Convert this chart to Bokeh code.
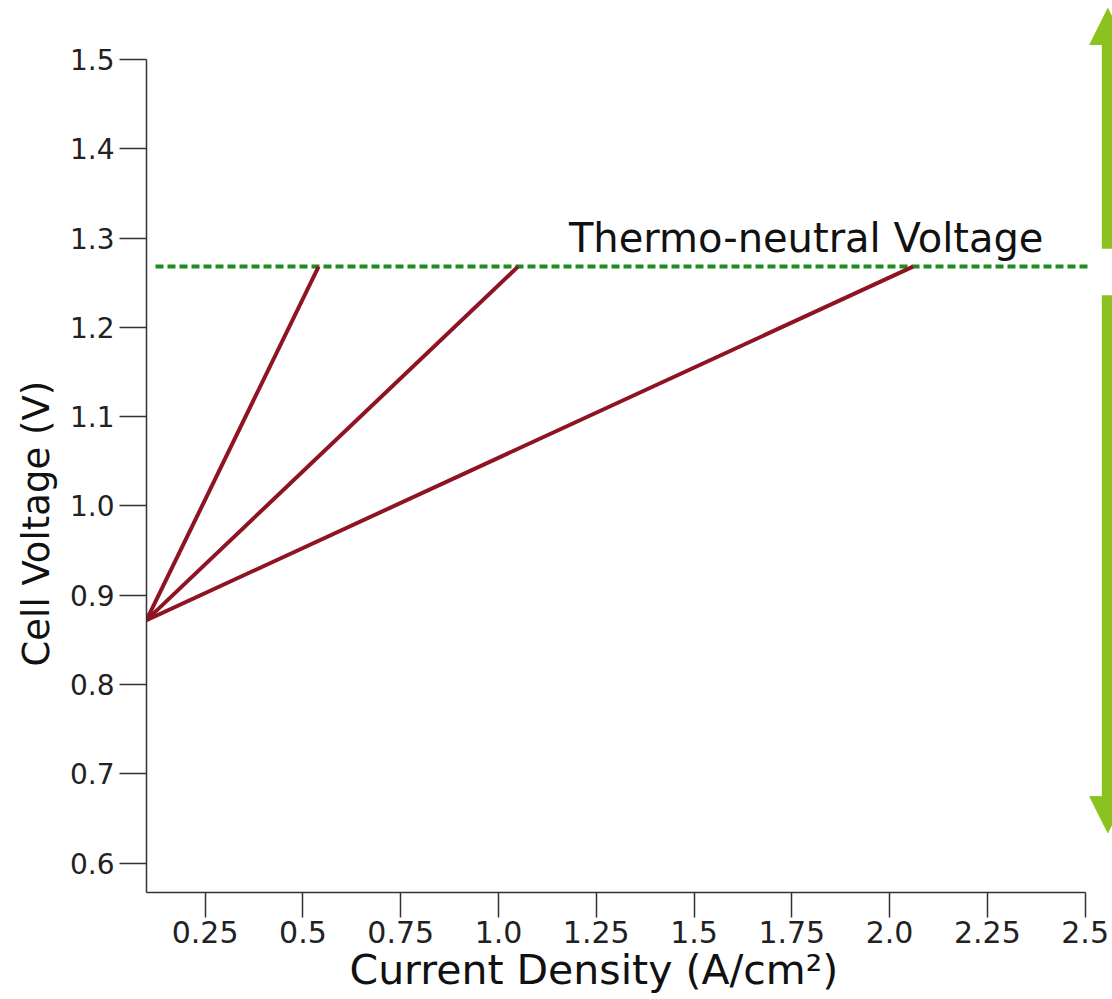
from bokeh.plotting import figure
from bokeh.models import Range1d, FixedTicker, Arrow, NormalHead, Label, Title
from bokeh.embed import file_html
from bokeh.resources import INLINE

# ---- data ----
origin_current = 0.1
origin_voltage = 0.872
end_currents = [0.54, 1.05, 2.06]
thermo_neutral_voltage = 1.268
thermo_label = "Thermo-neutral Voltage"
x_ticks = [0.25, 0.5, 0.75, 1.0, 1.25, 1.5, 1.75, 2.0, 2.25, 2.5]
x_tick_labels = ["0.25", "0.5", "0.75", "1.0", "1.25", "1.5", "1.75", "2.0", "2.25", "2.5"]
y_ticks = [0.6, 0.7, 0.8, 0.9, 1.0, 1.1, 1.2, 1.3, 1.4, 1.5]
y_tick_labels = ["0.6", "0.7", "0.8", "0.9", "1.0", "1.1", "1.2", "1.3", "1.4", "1.5"]
x_label = "Current Density (A/cm²)"
y_label = "Cell Voltage (V)"
arrow_x = 2.558
up_arrow = (1.288, 1.557)
down_arrow = (1.236, 0.634)

FONT = "DejaVu Sans"

p = figure(width=1112, height=999, output_backend="svg", toolbar_location=None,
           x_range=Range1d(0.1, 2.570), y_range=Range1d(0.567, 1.566),
           min_border_left=146, min_border_right=0, min_border_top=0, min_border_bottom=107)
p.grid.visible = False
p.outline_line_color = None
p.background_fill_color = "white"
p.border_fill_color = "white"

for ax in (p.xaxis[0], p.yaxis[0]):
    ax.axis_line_color = "#333333"
    ax.axis_line_width = 1.5
    ax.major_tick_line_color = "#333333"
    ax.major_tick_line_width = 1.5
    ax.major_tick_in = 0
    ax.minor_tick_line_color = None
    ax.major_label_text_font = FONT
    ax.major_label_text_color = "#222222"

p.xaxis[0].ticker = FixedTicker(ticks=x_ticks)
p.xaxis[0].major_label_overrides = dict(zip(x_ticks, x_tick_labels))
p.xaxis[0].major_label_text_font_size = "30px"
p.xaxis[0].major_tick_out = 25
p.xaxis[0].major_label_standoff = 3
p.xaxis[0].bounds = (0.1, 2.5)

p.yaxis[0].ticker = FixedTicker(ticks=y_ticks)
p.yaxis[0].major_label_overrides = dict(zip(y_ticks, y_tick_labels))
p.yaxis[0].major_label_text_font_size = "28px"
p.yaxis[0].major_tick_out = 27
p.yaxis[0].major_label_standoff = 5
p.yaxis[0].bounds = (0.567, 1.5)

# axis titles as side-panel titles
p.add_layout(Title(text=x_label, align="left", offset=203, standoff=0,
                   text_font=FONT, text_font_size="41px", text_font_style="normal",
                   text_color="#111111", vertical_align="top"), "below")
p.add_layout(Title(text=y_label, align="left", offset=226, standoff=18,
                   text_font=FONT, text_font_size="37px", text_font_style="normal",
                   text_color="#111111", vertical_align="bottom"), "left")

# thermo-neutral dashed line
p.line([0.123, 2.515], [thermo_neutral_voltage, thermo_neutral_voltage],
       line_color="#1f8c1f", line_width=4, line_dash="8 4")

# polarization lines
for xe in end_currents:
    p.line([origin_current, xe], [origin_voltage, thermo_neutral_voltage],
           line_color="#8e1424", line_width=4)

p.add_layout(Label(x=1.18, y=1.300, text=thermo_label, text_font=FONT,
                   text_font_size="40px", text_color="#111111",
                   text_baseline="alphabetic", text_align="left"))

green = "#8cc21f"
for (ys, ye) in (up_arrow, down_arrow):
    p.add_layout(Arrow(x_start=arrow_x, y_start=ys, x_end=arrow_x, y_end=ye,
                       line_color=green, line_width=12,
                       end=NormalHead(size=36, fill_color=green, line_color=green, line_width=1)))

open("out.html", "w").write(file_html(p, INLINE))
